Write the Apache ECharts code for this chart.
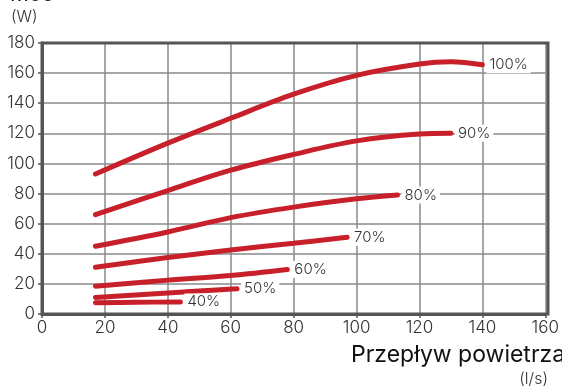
<!DOCTYPE html>
<html><head><meta charset="utf-8">
<script src="https://cdn.jsdelivr.net/npm/echarts@6/dist/echarts.min.js"></script>
<style>html,body{margin:0;padding:0;background:#fff}#c{width:562px;height:390px}</style>
</head><body><div id="c"></div>
<script>
const seriesNames = ['100%','90%','80%','70%','60%','50%','40%'];
const x100 = [17, 40, 60, 80, 100, 120, 130, 140];
const y100 = [93, 113.5, 130, 146, 158.5, 166, 167.5, 165.5];
const x90 = [17, 40, 60, 80, 100, 120, 130];
const y90 = [66, 82, 95.5, 106, 115, 119.5, 120];
const x80 = [17, 40, 60, 80, 100, 113];
const y80 = [45, 54.5, 64, 71, 76.5, 79];
const x70 = [17, 40, 60, 80, 97];
const y70 = [31, 37.5, 42.5, 47, 51];
const x60 = [17, 40, 60, 78];
const y60 = [18.5, 22.5, 25.5, 29.5];
const x50 = [17, 40, 62];
const y50 = [11, 14, 16.8];
const x40 = [17, 30, 44];
const y40 = [7.5, 7.8, 8];
const xTicks = [0,20,40,60,80,100,120,140,160];
const yTicks = [0,20,40,60,80,100,120,140,160,180];

const xs = [x100,x90,x80,x70,x60,x50,x40];
const ys = [y100,y90,y80,y70,y60,y50,y40];
const FONT = 'Inter';
const chart = echarts.init(document.getElementById('c'));
chart.setOption({
  animation: false,
  grid: {left: 42, right: 14, top: 43, bottom: 76},
  xAxis: {type:'value', min: xTicks[0], max: xTicks[xTicks.length-1], interval: 20,
    axisLine:{show:true, lineStyle:{color:'#555', width:3}},
    axisTick:{show:true, length:4, lineStyle:{color:'#555', width:1.5}},
    axisLabel:{color:'#333', fontSize:17, fontFamily:FONT, fontWeight:300, margin:5},
    splitLine:{show:true, lineStyle:{color:'#8a8a8a', width:1.5}}},
  yAxis: {type:'value', min: yTicks[0], max: yTicks[yTicks.length-1], interval: 20,
    axisLine:{show:true, lineStyle:{color:'#555', width:3}},
    axisTick:{show:true, length:4, lineStyle:{color:'#555', width:1.5}},
    axisLabel:{color:'#333', fontSize:17, fontFamily:FONT, fontWeight:300, margin:7},
    splitLine:{show:true, lineStyle:{color:'#8a8a8a', width:1.5}}},
  graphic: [
    {type:'rect', shape:{x:42, y:43, width:506, height:271}, style:{fill:'none', stroke:'#555', lineWidth:3}, z:1, silent:true},
    {type:'text', left:10, top:-16, style:{text:'Moc', fontSize:21, fontFamily:FONT, fill:'#111'}},
    {type:'text', left:11, top:9, style:{text:'(W)', fontSize:16, fontFamily:FONT, fontWeight:300, fill:'#333'}},
    {type:'text', left:351, top:344, style:{text:'Przepływ powietrza', fontSize:23, fontFamily:FONT, fill:'#111'}},
    {type:'text', right:14, top:371, style:{text:'(l/s)', fontSize:16, fontFamily:FONT, fontWeight:300, fill:'#333'}}
  ],
  series: seriesNames.map((n,i)=>({
    name:n, type:'line', smooth:0.35, showSymbol:false, z:5,
    data: xs[i].map((x,j)=>[x, ys[i][j]]),
    lineStyle:{color:'#c8202a', width:5, cap:'round'},
    endLabel:{show:true, formatter:n, color:'#333', fontSize:15, fontFamily:FONT, fontWeight:300,
      backgroundColor:'#fff', padding:[1,3], distance:4}
  }))
});
</script></body></html>
